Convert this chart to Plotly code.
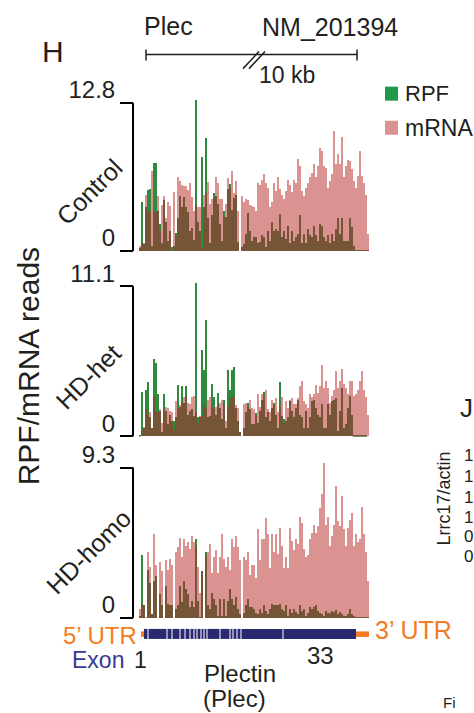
import plotly.graph_objects as go

# ---------------- data ----------------
bins = list(range(115))

ctrl_mrna = [0.5,0.7,0.7,4.9,3.5,3.5,6.9,3.4,3.4,4.8,1.8,4.0,4.8,2.9,4.3,3.9,0,5.1,1.3,6.4,
             6.1,5.7,5.6,5.6,5.3,5.9,4.7,3.5,4.0,3.8,3.8,0.3,4.9,5.0,6.0,4.1,4.5,4.6,6.4,5.9,
             4.5,4.5,3.0,4.1,6.3,5.5,6.9,5.0,6.1,3.5,0,4.8,4.3,4.5,4.4,4.0,3.9,
             3.8,3.5,5.9,5.7,6.2,6.7,5.9,5.5,3.8,4.3,5.9,5.2,6.4,5.4,4.9,4.5,5.2,6.2,5.7,5.1,
             6.2,5.9,8.0,7.4,5.2,4.8,5.5,5.9,6.4,6.8,7.5,6.4,7.4,8.9,8.7,7.4,7.2,5.5,6.1,6.7,
             10.4,7.5,8.4,7.5,9.9,6.4,7.4,7.9,7.8,7.1,6.1,5.5,6.5,8.7,6.5,5.9,4.9,1.5]
ctrl_rpf = [0.3,4.3,0.6,3.8,5.3,5.4,0.5,7.6,7.6,3.5,2.4,0.7,4.4,2.5,0.9,1.8,0.4,0.5,1.6,2.9,
            4.8,3.8,4.7,3.8,3.4,1.8,2.0,1.0,13.1,2.5,1.8,8.1,3.8,9.8,2.9,0.7,3.1,5.0,4.8,4.1,
            2.4,0.9,3.5,3.0,5.4,5.8,3.6,4.6,4.9,0.8,0,0.4,0.6,1.5,3.3,1.8,0.9,
            1.2,1.2,0.7,0.8,1.4,1.2,0.4,1.8,0.9,2.5,1.8,1.9,1.8,3.2,1.2,1.8,1.1,2.2,0.7,1.8,
            0.9,1.2,1.5,3.1,0.7,1.5,0.7,1.9,1.4,1.2,2.2,1.4,0.9,2.4,2.2,1.2,0.9,1.4,0.7,1.5,
            0.9,1.9,2.9,1.5,2.9,0.9,0.9,0.9,2.9,2.1,0.5,0.1,0.1,0.1,0.1,0.1,0.1,0.1]

het_mrna = [0,0.5,0.7,2.0,1.6,1.8,0.6,3.0,1.8,1.8,2.0,1.0,2.0,2.2,2.1,1.9,1.8,0.5,2.6,2.1,
            2.3,2.5,2.9,2.9,2.5,2.4,2.9,3.0,1.8,1.0,1.5,1.5,2.3,2.1,2.7,2.9,2.2,2.0,2.2,2.3,
            2.5,2.7,2.4,1.1,2.2,2.8,2.9,2.9,2.3,2.1,0.3,0,2.4,2.5,2.2,2.7,2.1,
            2.0,1.5,3.1,2.2,3.1,2.9,3.4,2.0,1.8,2.7,2.3,2.8,1.8,2.3,2.9,1.0,2.6,2.1,2.7,2.8,
            2.4,2.4,2.8,3.7,4.1,2.6,2.4,2.1,3.1,2.9,3.1,3.8,3.2,3.7,5.3,3.6,4.1,3.6,2.5,3.0,
            3.4,4.8,3.6,4.1,5.0,3.9,3.6,3.1,4.1,4.1,3.0,3.1,3.4,4.1,4.8,3.4,2.9,1.6]
het_rpf = [0.1,3.3,0.6,3.4,4.0,1.4,0.6,5.7,5.4,3.1,1.9,0.3,3.1,1.9,0.9,1.6,1.1,1.1,1.4,3.8,
           2.2,3.7,2.5,3.7,1.6,1.9,2.0,1.5,11.3,1.4,1.4,6.4,4.9,8.6,1.4,1.5,3.9,2.9,1.6,3.2,
           2.1,1.3,2.7,0.6,4.9,3.4,4.9,5.1,2.1,1.1,0.3,0,0.6,1.8,2.5,2.0,0.9,
           0.9,1.7,1.0,1.9,2.7,3.3,1.4,1.8,1.1,2.1,2.5,1.6,0.6,4.0,1.5,1.3,1.1,1.4,2.6,1.9,
           1.4,2.1,2.7,1.6,1.4,0.6,1.9,0.6,1.4,2.6,2.7,2.1,1.6,1.4,2.4,0.6,0.6,2.4,1.6,2.6,
           2.7,2.8,0.4,1.9,3.6,0.6,0.9,2.1,3.0,1.6,0.1,0.1,0.1,0.1,0.1,0.1,0.1,0]

homo_mrna = [0.6,0.9,0.8,0.1,4.1,3.2,0.3,5.2,3.3,0,3.5,2.9,0,3.6,3.0,3.7,3.3,0,4.1,4.4,
             5.0,3.8,4.9,4.5,4.7,4.3,5.1,4.7,4.4,3.2,1.6,2.9,0,3.9,4.1,4.6,2.8,3.8,4.2,2.8,
             3.8,5.2,3.7,3.2,3.8,3.0,4.9,4.4,5.1,4.4,3.6,0,3.8,3.6,4.1,2.7,3.3,
             3.3,2.5,5.5,3.6,4.9,4.9,6.2,5.2,3.1,5.2,4.1,5.2,4.0,5.6,4.5,3.1,3.8,3.1,5.6,4.8,
             4.2,4.9,4.6,6.3,5.9,4.3,3.8,3.9,4.9,5.3,5.8,5.3,5.7,6.8,7.7,9.6,5.8,6.3,4.5,5.1,
             5.8,8.2,6.0,5.7,7.6,5.5,4.5,5.6,6.1,6.5,4.5,5.2,4.7,4.9,6.9,5.2,4.1,2.3]
homo_rpf = [0.15,3.9,0.8,0,3.0,2.2,0.3,2.3,2.6,0,1.5,0.8,0,2.0,0.9,0.8,0.8,0,0.6,0.8,
            2.0,1.0,2.3,1.8,1.5,0.7,1.1,0.7,4.9,1.1,0.1,2.9,0,4.1,0.8,0.6,1.6,1.2,0.8,0.15,
            1.2,0.15,1.2,0.15,1.1,1.8,1.2,0.8,1.3,0.6,0.25,0,0.35,0.8,1.2,0.7,0.7,
            0.6,0.35,0.25,0.6,0.35,0.8,0.45,0.25,0.6,0.9,0.8,0.8,0.8,0.9,0.6,0.45,0.8,0.15,0.6,0.35,
            0.6,0.4,0.25,0.8,0.45,0.6,0.15,0.35,0.7,0.6,0.7,0.8,0.45,0.35,0.25,0.15,0.45,0.35,0.35,0.45,
            0.4,0.5,0.3,0.4,0.25,0.15,0.15,0.25,0.6,0.25,0.15,0.1,0.1,0.1,0.1,0.1,0.1,0.1]

panel_names = ["Control", "HD-het", "HD-homo"]
panel_max = [12.8, 11.1, 9.3]
legend_names = ["RPF", "mRNA"]

# gene model (in bin coordinates)
exon_start = [2, 4.25, 13.75, 16.25, 20.25, 22.75, 25.25, 27.25, 28.75, 30.75, 32.25, 33.75,
              40.25, 45.25, 46.75, 48.75, 50.75, 71.75]
exon_end = [3.75, 13.25, 15.75, 19.75, 22.25, 24.75, 26.75, 28.25, 30.25, 31.75, 33.25, 39.75,
            44.75, 46.25, 48.25, 50.25, 71.25, 108]
utr5 = [0.5, 2]
utr3 = [108, 114.5]

# ---------------- styling ----------------
W, H = 474, 713
FONT = "Liberation Sans, Arial, Helvetica, sans-serif"
TXT = "#231f20"
PINK = "#da9391"
GREEN = "#2e8b3e"
LEG_GREEN = "#1e9a4a"
BROWN = "#755535"
NAVY = "#2a2870"
EXON_TXT = "#3b3893"
ORANGE = "#f37b21"

# vertical calibration of the photographed page (observed: shown = 15.5 + 0.9725 * page)
CAL_OFF, CAL_K = 15.5, 0.9725


def px(X):
    return X / W


def py(Y):
    return 1 - ((Y - CAL_OFF) / CAL_K) / H


fig = go.Figure()

# target pixel geometry of each panel: (baseline Y, top-tick Y)
geom = [(248, 100), (433, 283), (614, 464)]
datasets = [(ctrl_mrna, ctrl_rpf), (het_mrna, het_rpf), (homo_mrna, homo_rpf)]
axis_ids = ["y", "y2", "y3"]
layout_keys = ["yaxis", "yaxis2", "yaxis3"]
AXIS_X = 133
shapes = []

for i, ((mrna, rpf), (yb, yt), ax, key, top) in enumerate(
        zip(datasets, geom, axis_ids, layout_keys, panel_max)):
    assert len(mrna) == len(bins) and len(rpf) == len(bins)
    overlap = [min(a, b) for a, b in zip(mrna, rpf)]
    fig.add_trace(go.Bar(x=bins, y=mrna, yaxis=ax, marker=dict(color=PINK, line=dict(width=0)),
                         name="mRNA", showlegend=False))
    fig.add_trace(go.Bar(x=bins, y=rpf, yaxis=ax, marker=dict(color=GREEN, line=dict(width=0)),
                         name="RPF", showlegend=False))
    fig.add_trace(go.Bar(x=bins, y=overlap, yaxis=ax, marker=dict(color=BROWN, line=dict(width=0)),
                         name="overlap", showlegend=False))
    extra = 8
    span = yb - yt
    fig.layout[key] = dict(
        domain=[py(yb), py(yt - extra)],
        range=[0, top * (span + extra) / span],
        anchor="free", position=px(AXIS_X),
        tickvals=[0, top], ticktext=["0", f"{top}"],
        ticks="outside", ticklen=13, tickwidth=2, tickcolor="black",
        ticklabelshift=-13,
        tickfont=dict(family=FONT, size=24, color=TXT),
        showgrid=False, zeroline=False, showline=False,
    )
    shapes.append(dict(type="line", xref="paper", yref=ax, x0=px(AXIS_X), x1=px(AXIS_X),
                       y0=0, y1=top, line=dict(color="black", width=2)))

# gene model
for s, e in zip(exon_start, exon_end):
    shapes.append(dict(type="rect", xref="x", yref="paper", x0=s, x1=e,
                       y0=py(635), y1=py(625), fillcolor=NAVY, line=dict(width=0)))
for s, e in [utr5, utr3]:
    shapes.append(dict(type="rect", xref="x", yref="paper", x0=s, x1=e,
                       y0=py(633), y1=py(627.5), fillcolor=ORANGE, line=dict(width=0)))

# scale bar at top
sb = dict(type="line", xref="paper", yref="paper", line=dict(color=TXT, width=1.5))
shapes.append({**sb, "x0": px(146), "x1": px(357), "y0": py(52), "y1": py(52)})
shapes.append({**sb, "x0": px(146), "x1": px(146), "y0": py(47), "y1": py(58)})
shapes.append({**sb, "x0": px(357), "x1": px(357), "y0": py(47), "y1": py(58)})
shapes.append({**sb, "x0": px(243), "x1": px(259), "y0": py(66), "y1": py(49)})
shapes.append({**sb, "x0": px(249), "x1": px(265), "y0": py(66), "y1": py(49)})

# key swatches
for (y0, y1), col in zip([(84, 98), (118, 132)], [LEG_GREEN, PINK]):
    shapes.append(dict(type="rect", xref="paper", yref="paper", x0=px(385), x1=px(398),
                       y0=py(y1), y1=py(y0), fillcolor=col, line=dict(width=0)))

annotations = []


def ann(text, X, Y, size=24, color=TXT, xanchor="left", angle=0, yanchor="middle", yp=None):
    annotations.append(dict(text=text, x=px(X), y=(py(Y) if yp is None else yp),
                            xref="paper", yref="paper",
                            xanchor=xanchor, yanchor=yanchor, showarrow=False, borderpad=0,
                            textangle=angle, font=dict(family=FONT, size=size, color=color)))


ann("H", 41, 49, size=30)
ann("Plec", 143, 23, size=25)
ann("NM_201394", 261, 24, size=25)
ann("10 kb", 258, 72, size=23)
ann(legend_names[0], 404, 91, size=22)
ann(legend_names[1], 404, 125, size=23)
ann("RPF/mRNA reads", 28, 363, size=30, xanchor="center", angle=-90)
for name, (cx, cy) in zip(panel_names, [(89, 189), (88, 374), (88, 548)]):
    ann(name, cx, cy, size=25, xanchor="center", angle=-45)
ann("5’ UTR", 138, 632, size=24, color=ORANGE, xanchor="right")
ann("3’ UTR", 374, 626, size=25, color=ORANGE)
ann("Exon", 71, 656, size=23, color=EXON_TXT)
ann("1", 133, 656, size=23)
ann("33", 320, 652, size=24, xanchor="center")
ann("Plectin", 203, 669, size=24)
ann("(Plec)", 202, None, size=24, yanchor="bottom", yp=0)
# neighbouring panel, cut off by the crop (kept inside the frame)
ann("J", 474, 405, size=26, xanchor="right")
ann("Lrrc17/actin", 444, 495, size=18, xanchor="center", angle=-90)
for t, yy in zip(["1", "1", "1", "1", "0", "0"], [452, 473, 494, 514, 533, 553]):
    ann(t, 474, yy, size=17, xanchor="right")
ann("Fi", 442, None, size=15, yanchor="bottom", yp=0.002)

fig.update_layout(
    width=W, height=H,
    margin=dict(l=0, r=0, t=0, b=0),
    paper_bgcolor="white", plot_bgcolor="rgba(0,0,0,0)",
    barmode="overlay", bargap=0,
    xaxis=dict(domain=[px(139), px(369)], range=[-0.5, 114.5], visible=False, anchor="y3"),
    showlegend=False,
    shapes=shapes, annotations=annotations,
    font=dict(family=FONT, color=TXT),
)

pin_page = (
    "var gd=document.getElementById('{plot_id}');"
    "gd.style.position='fixed';gd.style.top='0px';gd.style.left='0px';"
    "document.documentElement.style.margin='0px';document.documentElement.style.padding='0px';"
    "document.documentElement.style.overflow='hidden';"
    "document.body.style.margin='0px';document.body.style.padding='0px';"
    "document.body.style.overflow='hidden';"
)
fig.write_html("out.html", config={"displayModeBar": False}, post_script=pin_page)
